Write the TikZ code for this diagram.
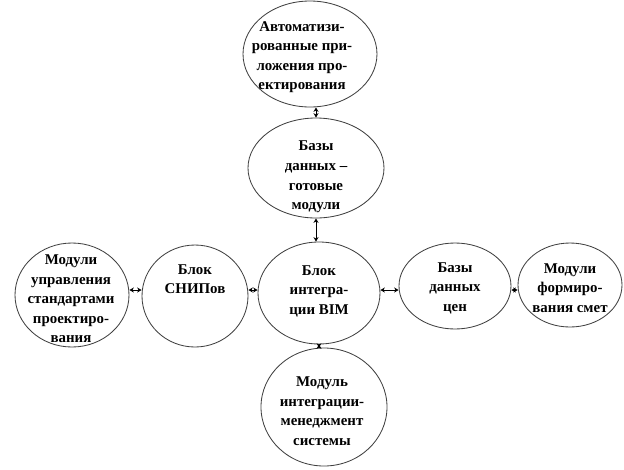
\documentclass[tikz,border=0pt]{standalone}
\usepackage{fontspec}
\setmainfont{Liberation Serif}
\usetikzlibrary{arrows.meta,shapes.geometric,calc}
\tikzset{
  every picture/.style={line join=round, line cap=round, >=Stealth},
  blk/.style={draw=black!75, line width=0.6pt, ellipse, inner sep=0pt},
  txt/.style={align=center, inner sep=0pt, font=\bfseries\fontsize{10.6}{13.9}\selectfont},
  link/.style={line width=0.6pt, {Stealth[length=3.2pt,width=3.6pt]}-{Stealth[length=3.2pt,width=3.6pt]}},
}
\begin{document}
\begin{tikzpicture}[x=0.25mm,y=-0.25mm]
\useasboundingbox (0,0) rectangle (624,469);
% blocks
\node[blk,minimum width=33.5mm,minimum height=26.5mm](auto) at (310,54) {};
\node[blk,minimum width=34mm,minimum height=25mm](bdm) at (316,168) {};
\node[blk,minimum width=30.5mm,minimum height=25.5mm](bim) at (319,293) {};
\node[blk,minimum width=28mm,minimum height=21.5mm](cen) at (455,286) {};
\node[blk,minimum width=26mm,minimum height=21mm](smet) at (570,285) {};
\node[blk,minimum width=26.5mm,minimum height=25.5mm](snip) at (195,296) {};
\node[blk,minimum width=28.5mm,minimum height=26mm](upr) at (72,295) {};
\node[blk,minimum width=31.5mm,minimum height=29.5mm](mng) at (324,407) {};
% texts
\node[txt](autotxt) at (302,57) {Автоматизи-\\рованные при-\\ложения про-\\ектирования};
\node[txt](bdmtxt) at (316,177) {Базы\\данных –\\готовые\\модули};
\node[txt](bimtxt) at (319,291) {Блок\\интегра-\\ции BIM};
\node[txt](centxt) at (455,288) {Базы\\данных\\цен};
\node[txt](smettxt) at (570,288) {Модули\\формиро-\\вания смет};
\node[txt](sniptxt) at (195,279) {Блок\\СНИПов};
\node[txt](uprtxt) at (71,299) {Модули\\управления\\стандартами\\проектиро-\\вания};
\node[txt](mngtxt) at (322,411) {Модуль\\интеграции-\\менеджмент\\системы};
% links
\draw[link](bdm.north)--(bdm.north|-auto.south);
\draw[link](bdm.south)--(bdm.south|-bim.north);
\draw[link](snip.east|-0,290)--(bim.west|-0,290);
\draw[link](upr.east|-0,290)--(snip.west|-0,290);
\draw[link](bim.east|-0,290)--(cen.west|-0,290);
\draw[link](cen.east|-0,290)--(smet.west|-0,290);
\draw[link](bim.south)--(bim.south|-mng.north);
\end{tikzpicture}
\end{document}
